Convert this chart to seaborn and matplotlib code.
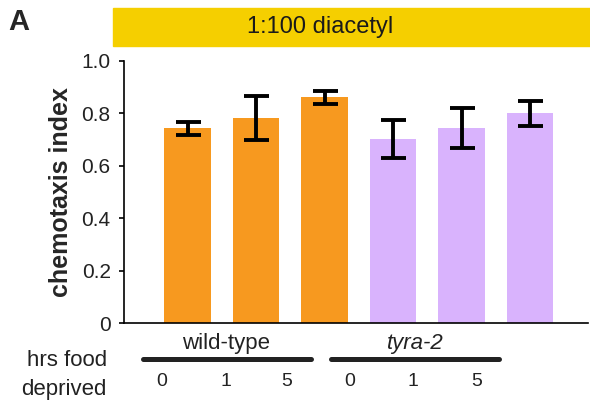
import matplotlib
matplotlib.use("Agg")
import matplotlib.pyplot as plt
from matplotlib.lines import Line2D
import seaborn as sns
import pandas as pd

# data
genotypes = ["wild-type", "wild-type", "wild-type", "tyra-2", "tyra-2", "tyra-2"]
hours = ["0", "1", "5", "0", "1", "5"]
means = [0.744, 0.782, 0.861, 0.702, 0.744, 0.800]
errors = [0.025, 0.083, 0.026, 0.073, 0.075, 0.046]
yticks = [0, 0.2, 0.4, 0.6, 0.8, 1.0]
ytick_labels = ["0", "0.2", "0.4", "0.6", "0.8", "1.0"]
colors = {"wild-type": "#F7991F", "tyra-2": "#D9B3FD"}

sns.set_style("white")
plt.rcParams["font.family"] = ["Liberation Sans", "DejaVu Sans"]

df = pd.DataFrame({
    "cond": [f"{g} {h}" for g, h in zip(genotypes, hours)],
    "genotype": genotypes,
    "hours": hours,
    "ci": means,
})

fig = plt.figure(figsize=(5.9, 4.12), dpi=100)
ax = fig.add_axes([0.210, 0.2153, 0.787, 0.6367])

sns.barplot(data=df, x="cond", y="ci", hue="genotype", palette=colors,
            dodge=False, width=0.68, legend=False, ax=ax, saturation=1,
            edgecolor="none")
ax.errorbar(range(len(means)), means, yerr=errors, fmt="none", ecolor="black",
            elinewidth=2.8, capsize=9, capthick=2.8, zorder=5)

ax.set_xlim(-0.93, 5.85)
ax.set_ylim(0, 1.0)
ax.set_yticks(yticks)
ax.set_yticklabels(ytick_labels, fontsize=15, color="#222222")
ax.set_xticks([])
ax.set_xlabel("")
ax.set_ylabel("chemotaxis index", fontsize=18, fontweight="bold", labelpad=6)
for s in ["top", "right"]:
    ax.spines[s].set_visible(False)
for s in ["left", "bottom"]:
    ax.spines[s].set_color("black")
    ax.spines[s].set_linewidth(1.2)
ax.tick_params(axis="y", direction="out", length=3.5, width=1.2, color="black", pad=6, left=True)

W, H = 590, 412
def fx(x):
    return x / W
def fy(y):
    return 1 - y / H

# banner
fig.patches.append(plt.Rectangle((fx(113), fy(46)), fx(590 - 113), (46 - 8) / H,
                                 transform=fig.transFigure, color="#F5CF00", zorder=0))
fig.text(fx(320), fy(27), "1:100 diacetyl", fontsize=17, ha="center", va="center", color="#1a1a1a")
fig.text(fx(8), fy(22), "A", fontsize=21, fontweight="bold", ha="left", va="center")

# bottom annotations
fig.text(fx(226), fy(343), "wild-type", fontsize=16, ha="center", va="center", color="#222222")
fig.text(fx(415), fy(343), "tyra-2", fontsize=16, ha="center", va="center", style="italic", color="#222222")
fig.lines.append(Line2D([fx(143), fx(311)], [fy(359), fy(359)], transform=fig.transFigure,
                        color="#222222", linewidth=3.6))
fig.lines.append(Line2D([fx(331), fx(499)], [fy(359), fy(359)], transform=fig.transFigure,
                        color="#222222", linewidth=3.6))
num_x = [162, 226, 287, 350, 413, 477]
for xx, h in zip(num_x, hours):
    fig.text(fx(xx), fy(382), h, fontsize=14, ha="center", va="center", color="#222222")
fig.text(fx(107), fy(361), "hrs food", fontsize=16, ha="right", va="center", color="#222222")
fig.text(fx(107), fy(390), "deprived", fontsize=16, ha="right", va="center", color="#222222")

fig.savefig("out.png", dpi=100)
